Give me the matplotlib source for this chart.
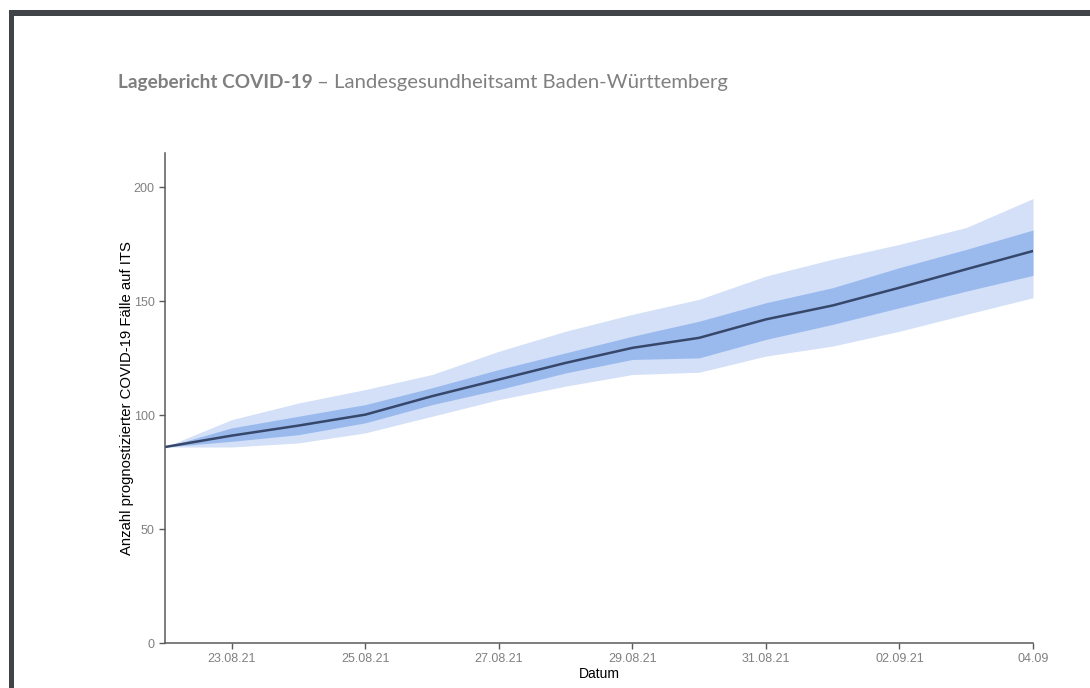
import pandas as pd
import matplotlib.pyplot as plt
import matplotlib.patches as mpatches
import numpy as np

# Prognose ITS-Belegung
dates = pd.date_range('2021-08-22', periods=14, freq='D')
median = [86, 91, 95.4, 100.2, 108.3, 115.6, 122.9, 129.5, 133.9, 142, 148.1, 155.9, 164, 172]
inner_lo = [86, 88.5, 91.4, 96.6, 104.6, 111.2, 118.5, 124.4, 125.1, 133.2, 139.8, 147.1, 154.4, 161.3]
inner_hi = [86, 94.4, 99.5, 104.6, 112, 120, 127.3, 134.6, 141.2, 149.3, 155.9, 164.7, 172.7, 181.2]
outer_lo = [86, 86, 87.8, 92.2, 99.5, 106.8, 112.7, 117.8, 118.8, 125.9, 130.3, 136.8, 144.2, 151.5]
outer_hi = [86, 98, 105.3, 111.2, 117.8, 128, 136.8, 144.2, 150.8, 161, 168.4, 174.9, 182.3, 195]

tick_dates = dates[1::2]
tick_labels = ['23.08.21', '25.08.21', '27.08.21', '29.08.21', '31.08.21', '02.09.21', '04.09']

W, H = 1090, 688
fig = plt.figure(figsize=(W/100, H/100), dpi=100)
fig.patch.set_facecolor('white')

# dunkler Rahmen oben/links (Screenshot)
border = '#404347'
fig.patches.append(mpatches.Rectangle((9/W, 1-16/H), 1-9/W, 6/H, transform=fig.transFigure,
                                      facecolor=border, edgecolor='none', zorder=0))
fig.patches.append(mpatches.Rectangle((9/W, 0), 5/W, 1-10/H, transform=fig.transFigure,
                                      facecolor=border, edgecolor='none', zorder=0))

# Titel
t1 = fig.text(118/W, 1-88/H, 'Lagebericht COVID-19', fontfamily='Lato', fontweight='bold',
              fontsize=13.7, color='#7f7f7f', va='baseline')
fig.canvas.draw()
bb = t1.get_window_extent()
fig.text(bb.x1/W + 4/W, 1-88/H, '\u2013 Landesgesundheitsamt Baden-Württemberg', fontfamily='Lato',
         fontsize=14.6, color='#808080', va='baseline')

ax = fig.add_axes([165/W, (H-643)/H, (1033-165)/W, (643-153)/H])
ax.fill_between(dates, outer_lo, outer_hi, color='#d3e0f8', lw=0)
ax.fill_between(dates, inner_lo, inner_hi, color='#9abaee', lw=0)
ax.plot(dates, median, color='#36476a', lw=1.8)

ax.set_xlim(dates[0], dates[-1])
ax.set_ylim(0, 215)
ax.set_yticks([0, 50, 100, 150, 200])
ax.set_xticks(tick_dates)
ax.set_xticklabels(tick_labels)

for s in ['top', 'right']:
    ax.spines[s].set_visible(False)
for s in ['left', 'bottom']:
    ax.spines[s].set_color('#5a5a5a')
    ax.spines[s].set_linewidth(1.1)
ax.tick_params(axis='both', colors='#5a5a5a', length=4, width=1, labelsize=9,
               labelcolor='#808080')
for lab in ax.get_xticklabels() + ax.get_yticklabels():
    lab.set_fontfamily('Liberation Sans')

ax.set_xlabel('Datum', fontfamily='Liberation Sans', fontsize=10, color='black', labelpad=1)
ax.set_ylabel('Anzahl prognostizierter COVID-19 Fälle auf ITS', fontfamily='Liberation Sans',
              fontsize=10.7, color='black', labelpad=0)

fig.savefig('out.png', dpi=100)
